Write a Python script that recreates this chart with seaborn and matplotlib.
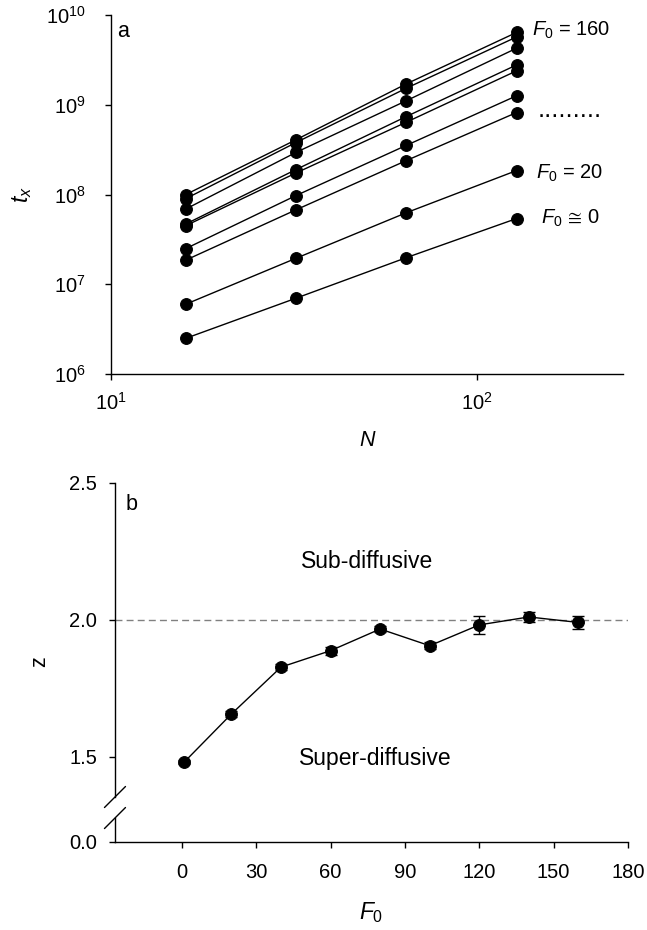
import numpy as np
import pandas as pd
import matplotlib
matplotlib.use("Agg")
import matplotlib.pyplot as plt
from matplotlib.ticker import NullLocator, FixedLocator, FormatStrFormatter
import seaborn as sns

# ---------------- data ----------------
N_values = [16, 32, 64, 128]
F0_series = [0, 20, 40, 60, 80, 100, 120, 140, 160]
tx_F0_0 = [2.5e6, 7.0e6, 1.98e7, 5.4e7]
tx_F0_20 = [6.0e6, 1.95e7, 6.27e7, 1.85e8]
tx_F0_40 = [1.86e7, 6.76e7, 2.39e8, 8.2e8]
tx_F0_60 = [2.5e7, 9.75e7, 3.53e8, 1.26e9]
tx_F0_80 = [4.7e7, 1.9e8, 7.4e8, 2.78e9]
tx_F0_100 = [4.5e7, 1.74e8, 6.4e8, 2.39e9]
tx_F0_120 = [6.9e7, 2.95e8, 1.11e9, 4.27e9]
tx_F0_140 = [9.0e7, 3.8e8, 1.53e9, 5.7e9]
tx_F0_160 = [1.0e8, 4.08e8, 1.71e9, 6.4e9]

F0_b = [1, 20, 40, 60, 80, 100, 120, 140, 160]
z_values = [1.481, 1.656, 1.827, 1.887, 1.966, 1.905, 1.981, 2.010, 1.990]
z_err = [0.006, 0.012, 0.010, 0.015, 0.012, 0.012, 0.032, 0.018, 0.025]

ytick_b = [1.5, 2.0, 2.5]
xtick_b = [0, 30, 60, 90, 120, 150, 180]

# ---------------- style ----------------
sns.set_theme(style="ticks")
plt.rcParams["font.family"] = ["Liberation Sans", "DejaVu Sans"]
plt.rcParams["mathtext.fontset"] = "custom"
plt.rcParams["mathtext.rm"] = "Liberation Sans"
plt.rcParams["mathtext.it"] = "Liberation Sans:italic"
plt.rcParams["mathtext.bf"] = "Liberation Sans:bold"
plt.rcParams["mathtext.fallback"] = "stixsans"
plt.rcParams["axes.edgecolor"] = "black"
plt.rcParams["axes.linewidth"] = 1.0
plt.rcParams["xtick.color"] = "black"
plt.rcParams["ytick.color"] = "black"
plt.rcParams["text.color"] = "black"
plt.rcParams["axes.labelcolor"] = "black"

FS = 14.5
FT = 15.5

all_tx = [tx_F0_0, tx_F0_20, tx_F0_40, tx_F0_60, tx_F0_80,
          tx_F0_100, tx_F0_120, tx_F0_140, tx_F0_160]
rows = []
for f0, series in zip(F0_series, all_tx):
    for n, t in zip(N_values, series):
        rows.append({"F0": f0, "N": n, "tx": t})
df_a = pd.DataFrame(rows)
df_b = pd.DataFrame({"F0": F0_b, "z": z_values, "err": z_err})

fig = plt.figure(figsize=(6.47, 9.30), dpi=100)
ax_a = fig.add_axes([0.1716, 0.5978, 0.7913, 0.3860])
ax_b = fig.add_axes([0.1777, 0.1430, 0.7929, 0.3380])
ax_b0 = fig.add_axes([0.1777, 0.0949, 0.7929, 0.0255], sharex=ax_b)

# ---------------- panel a ----------------
sns.lineplot(data=df_a, x="N", y="tx", units="F0", estimator=None,
             color="black", marker="o", markersize=8.5,
             markeredgecolor="black", linewidth=1.0, ax=ax_a, legend=False)
ax_a.set_xscale("log")
ax_a.set_yscale("log")
ax_a.set_xlim(10, 250)
ax_a.set_ylim(1e6, 1e10)
ax_a.xaxis.set_minor_locator(NullLocator())
ax_a.yaxis.set_minor_locator(NullLocator())
ax_a.set_yticks([1e6, 1e7, 1e8, 1e9, 1e10])
ax_a.set_xticks([10, 100])
ax_a.tick_params(axis="y", direction="out", length=4, width=1, labelsize=FS, pad=14)
ax_a.tick_params(axis="x", direction="out", length=4, width=1, labelsize=FS, pad=9)
sns.despine(ax=ax_a)
ax_a.set_xlabel("N", fontstyle="italic", fontsize=FT, va="center")
ax_a.xaxis.set_label_coords(0.5, -0.184)
ax_a.set_ylabel(r"$t_x$", fontsize=FT + 1, va="center")
ax_a.yaxis.set_label_coords(-0.174, 0.5)

ax_a.text(0.012, 0.955, "a", transform=ax_a.transAxes, fontsize=FT,
          ha="left", va="center")
ax_a.text(0.822, 0.958, r"$F_{\mathrm{0}}$ = 160", transform=ax_a.transAxes,
          fontsize=FS, ha="left", va="center")
ax_a.text(0.833, 0.715, ".........", transform=ax_a.transAxes,
          fontsize=18.5, ha="left", va="baseline")
ax_a.text(0.830, 0.560, r"$F_{\mathrm{0}}$ = 20", transform=ax_a.transAxes,
          fontsize=FS, ha="left", va="center")
ax_a.text(0.840, 0.435, r"$F_{\mathrm{0}}\,\cong\,\mathrm{0}$", transform=ax_a.transAxes,
          fontsize=FS, ha="left", va="center")

# ---------------- panel b ----------------
ax_b.axhline(2.0, color="#808080", lw=1.0, ls=(0, (5, 3)), zorder=1)
ax_b.errorbar(df_b["F0"], df_b["z"], yerr=df_b["err"], fmt="none",
              ecolor="black", elinewidth=1, capsize=4.5, capthick=1, zorder=1.5)
sns.lineplot(data=df_b, x="F0", y="z", color="black", marker="o",
             markersize=8.5, markeredgecolor="black", linewidth=1.0,
             ax=ax_b, legend=False, zorder=3)
ax_b.set_xlim(-27, 180)
ax_b.set_ylim(1.353, 2.5)
ax_b.yaxis.set_major_locator(FixedLocator(ytick_b))
ax_b.yaxis.set_major_formatter(FormatStrFormatter("%.1f"))
ax_b.tick_params(axis="y", direction="out", length=4, width=1, labelsize=FS, pad=9)
ax_b.tick_params(axis="x", bottom=False, labelbottom=False)
for s in ["top", "right", "bottom"]:
    ax_b.spines[s].set_visible(False)
ax_b.set_xlabel("")
ax_b.set_ylabel("z", fontsize=FT, va="center")
ax_b.yaxis.set_label_coords(-0.146, 0.43)
ax_b.text(0.021, 0.931, "b", transform=ax_b.transAxes, fontsize=FT,
          ha="left", va="center")
ax_b.text(0.491, 0.749, "Sub-diffusive", transform=ax_b.transAxes,
          fontsize=FT + 1, ha="center", va="center")
ax_b.text(0.507, 0.121, "Super-diffusive", transform=ax_b.transAxes,
          fontsize=FT + 1, ha="center", va="center")

ax_b0.set_ylim(0, 1)
ax_b0.set_yticks([0])
ax_b0.yaxis.set_major_formatter(FormatStrFormatter("%.1f"))
ax_b0.xaxis.set_major_locator(FixedLocator(xtick_b))
ax_b0.tick_params(axis="both", direction="out", length=4, width=1, labelsize=FS)
ax_b0.tick_params(axis="y", pad=9)
ax_b0.tick_params(axis="x", pad=11)
for s in ["top", "right"]:
    ax_b0.spines[s].set_visible(False)
ax_b0.set_xlabel(r"$F_{\mathrm{0}}$", fontsize=FT + 1, va="center")
ax_b0.xaxis.set_label_coords(0.5, -3.0)

# axis-break marks
dx_u, dy_u = 10.5 / 513, 10.5 / 314.3
ax_b.plot([-dx_u, dx_u], [-dy_u, dy_u], transform=ax_b.transAxes,
          color="black", lw=1, clip_on=False)
dy_l = 10.5 / 23.7
ax_b0.plot([-dx_u, dx_u], [1 - dy_l, 1 + dy_l], transform=ax_b0.transAxes,
           color="black", lw=1, clip_on=False)

fig.savefig("out.png", dpi=100)
